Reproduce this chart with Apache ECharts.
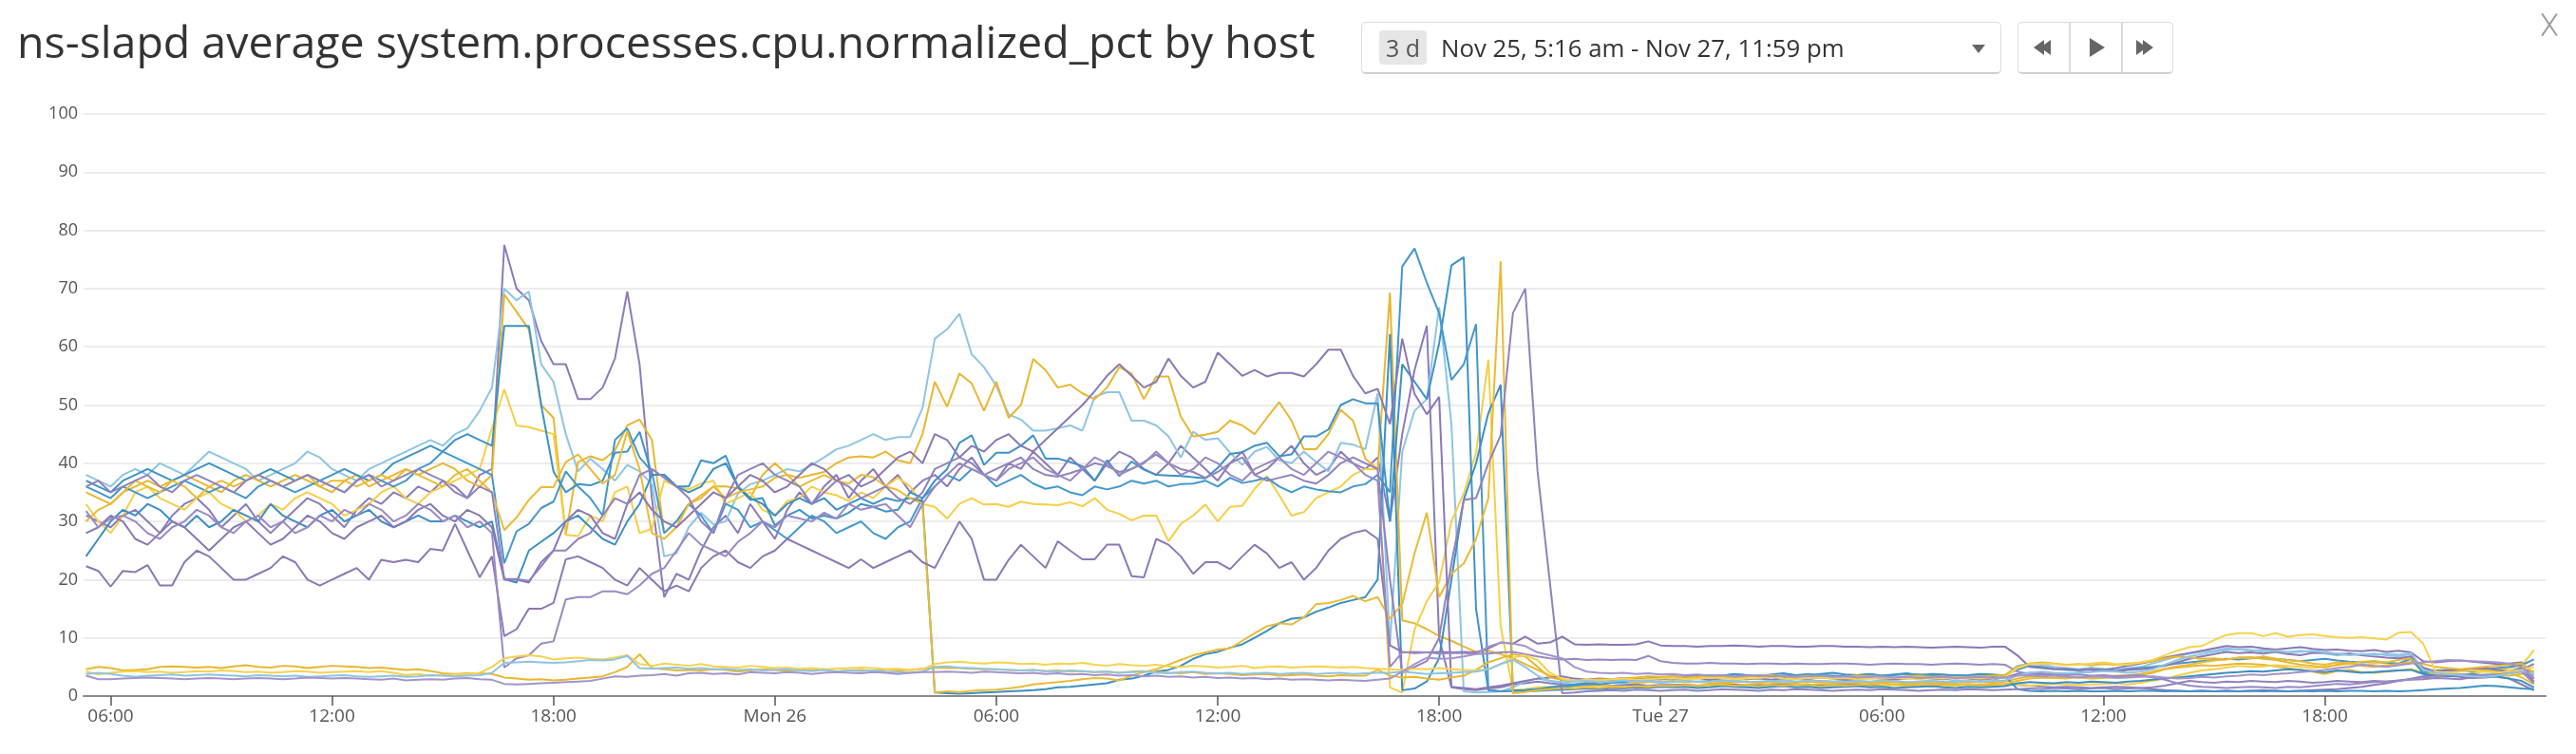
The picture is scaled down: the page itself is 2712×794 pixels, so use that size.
<!DOCTYPE html>
<html>
<head>
<meta charset="utf-8">
<script src="https://cdn.jsdelivr.net/npm/echarts@6.0.0/dist/echarts.min.js"></script>
<style>
html,body{margin:0;padding:0;background:#fff;width:2712px;height:794px;overflow:hidden;font-family:"Open Sans",sans-serif;}
#chart{position:absolute;left:0;top:0;width:2712px;height:794px;}
.hdr{position:absolute;white-space:nowrap;}
#title{left:18px;top:20px;font-size:46.5px;line-height:46.5px;color:#333;}
#picker{left:1433px;top:23px;width:672px;height:52px;border:1.5px solid #dcdcdc;border-bottom:2px solid #cfcfcf;border-radius:5px;box-sizing:content-box;}
#badge{position:absolute;left:18px;top:8px;width:50px;height:36px;background:#e6e6e6;border-radius:4px;color:#555;font-size:25px;line-height:36px;text-align:center;}
#range{position:absolute;left:83px;top:0;height:52px;line-height:52px;font-size:25.8px;color:#333;}
#caret{position:absolute;left:642px;top:23px;width:0;height:0;border-left:7px solid transparent;border-right:7px solid transparent;border-top:9px solid #666;}
#btns{left:2124px;top:23px;width:162px;height:52px;border:1.5px solid #dcdcdc;border-bottom:2px solid #cfcfcf;border-radius:5px;}
.div{position:absolute;top:0;width:1.5px;height:52px;background:#dcdcdc;}
.tri{position:absolute;width:0;height:0;}
.xl{position:absolute;width:1.6px;height:28px;background:#9a9a9a;}
</style>
</head>
<body>
<div id="chart"></div>
<div class="hdr" id="title">ns-slapd average system.processes.cpu.normalized_pct by host</div>
<div class="hdr" id="picker"><div id="badge">3 d</div><div id="range">Nov 25, 5:16 am - Nov 27, 11:59 pm</div><div id="caret"></div></div>
<div class="hdr" id="btns">
  <div class="div" style="left:53px"></div>
  <div class="div" style="left:108px"></div>
  <div class="tri" style="left:16px;top:18px;border-top:8px solid transparent;border-bottom:8px solid transparent;border-right:11px solid #666;"></div>
  <div class="tri" style="left:23px;top:18px;border-top:8px solid transparent;border-bottom:8px solid transparent;border-right:11px solid #666;"></div>
  <div class="tri" style="left:75px;top:16px;border-top:10px solid transparent;border-bottom:10px solid transparent;border-left:16px solid #666;"></div>
  <div class="tri" style="left:124px;top:18px;border-top:8px solid transparent;border-bottom:8px solid transparent;border-left:11px solid #666;"></div>
  <div class="tri" style="left:131px;top:18px;border-top:8px solid transparent;border-bottom:8px solid transparent;border-left:11px solid #666;"></div>
</div>
<div class="xl" style="left:2683px;top:12px;transform:rotate(34deg);"></div>
<div class="xl" style="left:2683px;top:12px;transform:rotate(-34deg);"></div>
<script>
// time grid: first point Nov 25 05:20, one point every 20 minutes (hours since Nov 25 00:00)
const startHour = 5 + 20/60;
const stepHour = 20/60;
const xMin = 5 + 16/60;       // Nov 25, 5:16 am
const xMax = 71 + 59/60;      // Nov 27, 11:59 pm
const xTickHours = [6,12,18,24,30,36,42,48,54,60,66];
const xTickLabels = ['06:00','12:00','18:00','Mon 26','06:00','12:00','18:00','Tue 27','06:00','12:00','18:00'];
const yTicks = [0,10,20,30,40,50,60,70,80,90,100];

const sA = [31,30,29,31,32,30,28,31,33,34,32,29,31,33,30,28,30,32,34,33,31,29,32,34,33,35,34,36,35,37,36,34,38,39,
77.5,70,68,61,
57,57,51,51,53,58,69.5,57,34,17,21,20,25,29,31,28,33,30,27,32,35,33,36,38,34,37,39,36,38,35,37,
38,36,39,41,38,37,40,39,42,40,38,41,39,37,40,42,41,39,38,40,43,41,39,37,40,42,38,39,41,43,40,38,39,42,40,39,41,
30,45,56,63.6,10,1.5,1.2,1.0,1.3,1.5,2.0,2.2,2.5,
2.2,2.0,1.8,1.9,2.0,1.8,1.9,2.0,1.8,1.9,
1.9,2.0,1.8,1.9,2.1,2.0,1.9,1.8,2.0,2.1,1.9,2.0,1.8,1.9,2.0,2.1,1.9,1.8,2.0,1.9,2.0,2.1,1.9,1.8,2.0,1.9,2.0,
2.0,1.9,1.8,1.6,1.5,1.6,1.5,1.4,1.5,1.6,1.5,1.4,
1.2,1.0,0.9,0.8,0.9,0.8,0.9,0.8,0.9,1.0,0.9,0.8,0.9,1.0,1.1,1.2,1.4,1.6,1.9,2.2,2.6,3.0,
3.4,3.6,3.5,3.3,3.1,3.2,3.4,3.0,2.0,1.0];

const sB = [38,37,36,38,39,38,40,39,38,40,42,41,40,39,37,38,39,40,42,41,39,38,37,39,40,41,42,43,44,43,45,46,49,53,
70,68,69.5,57,
54,45,38.6,40.8,39,37,39.7,38.6,36.4,24,24.5,29,31.5,29.5,30,34.8,36.4,37,38,39,38.6,39.7,41,42.4,43,44,45,44,44.5,44.5,49.5,
61.4,63,65.7,58.7,56.5,53.3,48.4,47.5,45.6,45.6,46,46.5,45.6,51.4,52.2,52.2,47.3,47.3,46.5,44.6,41,45.4,44,44.3,41.8,39.7,42,42.8,40.5,40,42,40.2,38.6,43.5,43.2,42.4,52,
8.7,42,49,51,66.8,46.7,0.8,0.6,0.7,0.8,1.5,2.5,3.0,
2.6,2.2,2.0,2.3,2.5,2.4,2.2,2.6,2.5,2.3,
2.4,2.6,2.5,2.7,2.4,2.6,2.5,2.3,2.6,2.8,2.5,2.4,2.6,2.5,2.7,2.6,2.4,2.5,2.6,2.3,2.5,2.6,2.4,2.7,2.5,2.4,2.6,
3.5,5.2,5.6,5.4,5.0,4.8,4.6,4.9,4.7,4.5,4.8,5.0,
5.6,6.2,6.8,7.3,7.6,7.8,8.2,8.0,7.8,7.9,7.7,7.6,7.8,7.5,7.3,7.0,7.2,7.1,7.3,7.0,6.8,7.2,
4.2,3.8,3.9,3.6,3.4,3.7,3.9,4.2,4.6,3.5];

const sC = [35,34,33,35,36,37,36,37,38,37,36,35,37,38,37,36,37,38,37,36,35,37,38,36,37,38,39,38,39,40,39,37,36,38,
69,66,63,50,
47.8,27.7,40.2,41.2,40.5,42.2,46.5,47.5,44,28,30,33,34.5,36,36,35.7,34,38,40,38,37.5,38,38.5,40,41,41.2,41,42,40.5,40,45,
54,49.7,55.4,53.7,49,54,47.8,50,57.9,56,53,53.5,52,51,53,56.5,55.4,51,54.9,54.9,48,44.6,44.9,45.4,47.3,46.5,45,47.8,50.5,47.3,42.4,42.4,45,49.2,47.3,40.8,39,
69.3,13,12.5,11.5,10.3,9.5,8.5,7.6,7.8,7.2,6.5,5.5,4.5,
3.5,2.8,2.6,2.5,2.4,2.6,2.5,2.3,2.4,2.5,
2.6,2.4,2.5,2.3,2.2,2.4,2.5,2.3,2.4,2.2,2.3,2.5,2.4,2.3,2.2,2.4,2.3,2.5,2.4,2.2,2.3,2.4,2.2,2.3,2.5,2.4,2.3,
2.5,3.0,3.4,3.2,3.1,3.3,3.2,3.0,3.1,3.3,3.4,3.6,
4.0,4.6,4.9,5.1,5.3,5.2,5.4,5.6,5.5,5.4,5.1,4.8,4.5,4.2,3.8,4.3,4.5,4.1,4.0,4.2,4.4,4.6,
4.0,3.8,3.6,3.7,3.5,3.4,3.6,3.5,3.8,4.3];

const sD = [33,30,28,31,35,36,34,33,32,34,35,33,32,30,31,33,32,34,35,34,33,31,32,33,35,36,34,33,35,36,37,38,39,46,
52.7,46.5,46.2,45.6,
45,27.7,27.5,31,30,35,36,28,28.7,37,36,35.5,36.5,37,33,34,35,32,31,33.5,34,36,35,34.5,33.5,35,34,36,37.5,36,33,
32.5,30.5,33,34,32.9,33,32.5,33.4,33,32.9,32.8,33.3,32.6,34,32,31.3,30.2,31,31,26.6,29.6,31,32.9,30,32.5,32.7,35.6,37.8,34.5,31,31.6,34,35,36,38,39,39,
1.5,0.6,11.4,16.3,19.6,30,34.8,41.8,57.8,12,1.0,1.2,1.5,
1.6,1.5,1.7,1.6,1.8,1.7,1.6,1.5,1.7,1.6,
1.7,1.8,1.6,1.7,1.9,1.8,1.7,1.6,1.8,1.7,1.9,1.8,1.6,1.7,1.8,1.7,1.6,1.8,1.9,1.7,1.8,1.6,1.7,1.8,1.9,1.7,1.8,
1.9,2.0,1.8,1.9,2.1,2.0,1.9,2.0,2.1,2.2,2.0,2.3,
2.6,3.0,3.5,4.0,4.4,4.6,4.9,5.2,5.0,5.1,5.3,5.2,5.0,4.8,5.1,5.3,5.5,5.4,5.6,5.8,5.5,5.9,
4.8,4.0,3.8,3.6,3.9,4.2,4.5,4.8,5.2,7.9];

const sE = [37,36,35,37,38,39,38,37,38,39,40,39,38,37,38,39,38,37,38,37,38,39,38,37,38,40,41,42,43,42,44,45,44,43,
63.6,63.6,63.6,50,
38.6,35,36.4,36.2,37,41.8,42,45.4,38,38,36,36,40.5,40,41.3,35.9,33.7,34,29.3,31,32,30.5,31,30.5,31.5,33,32.5,31.7,32,35,34,
37,39,43.5,44.8,39.7,41.8,41.8,43,44.8,40.8,40.8,40.2,39.5,37,40.5,37.8,40.3,38.9,38,37.9,37.8,37.6,37.4,39.2,41.6,41.9,43,43.5,41.2,41.5,44.6,44.6,45.8,50,51,50.3,50.3,
30,57,54,51,60.6,74,75.4,15,1.0,0.8,0.9,1.0,1.2,
1.5,1.8,2.0,2.2,2.0,2.3,2.5,2.8,3.0,2.9,
3.2,3.4,3.3,3.6,3.5,3.8,3.6,3.4,3.7,3.9,3.6,3.5,3.8,4.0,3.7,3.6,3.8,3.5,3.7,3.9,3.6,3.8,3.7,3.5,3.6,3.8,3.7,
3.5,1.2,0.9,0.8,0.9,0.8,0.9,0.8,0.8,0.9,0.8,0.9,
0.9,0.8,0.9,0.8,0.9,0.8,0.9,0.8,0.9,0.8,0.9,0.8,0.9,0.8,0.9,0.8,0.9,0.9,0.8,0.9,0.8,0.9,
1.0,1.2,1.3,1.4,1.6,1.8,1.7,1.5,1.3,1.2];

const sF = [36,35,34,36,35,34,35,36,37,36,35,36,35,34,36,37,36,35,36,37,36,35,37,38,37,36,37,39,40,42,41,40,39,38,
22.8,28.3,29.6,32.3,
33.4,38.6,36,34,31,44,46,41,38.6,28,30,33,31,28,33,32,29,30,28.5,27,29,31,30,28,29,30,28,27,29,30,34,
36,38,37,39,38,36,37,38,36.5,35.6,36,35,34.5,36,35.5,36,37,36.5,37,36,36.4,36.5,37,36,37.5,36.6,37,37.5,36,35,36,35.5,35.2,35,36,36.4,38,
35,73.8,76.9,71,65.8,54.3,57,63.9,1.0,0.8,0.9,1.0,1.2,
1.3,1.5,1.8,2.0,2.4,2.6,2.4,2.8,3.0,3.2,
3.4,3.3,3.6,3.4,3.5,3.7,3.6,3.4,3.3,3.5,3.6,3.8,3.6,3.5,3.4,3.6,3.7,3.5,3.6,3.8,3.7,3.5,3.4,3.6,3.5,3.3,3.4,
3.6,4.5,5.2,5.0,4.7,4.5,4.4,4.6,4.5,4.3,4.6,4.8,
5.0,5.3,5.6,5.8,6.0,6.2,6.4,6.3,6.5,6.6,6.4,6.2,6.0,6.2,6.4,6.1,5.9,5.8,6.0,5.7,5.6,6.4,
4.0,4.4,4.5,4.4,4.2,4.6,4.8,5.0,5.3,6.3];

const sG = [24,27,30,32,31,33,32,30,29,31,29,30,32,31,30,33,31,30,29,31,32,30,31,32,30,29,30,31,30,30,31,30,29,30,
20.1,19.5,25,26.5,
28,30,31,29,27,26,30,33,38,38,36,35,36,39,40,36,34,33,31,33,34,33,34,32,33,34,33,34,33.5,34,33.5,
0.6,0.5,0.4,0.5,0.6,0.7,0.8,0.9,1.0,1.2,1.5,1.6,1.8,2.0,2.2,2.8,3.0,3.5,4.2,4.5,5.2,6.4,7.2,7.6,8.3,8.9,10.0,11.2,12.5,13.3,13.5,14.5,15.2,16.0,16.5,17.0,20.0,
62.2,1.0,1.3,2.5,6.5,20,33.7,40,48.6,53.5,1.0,0.8,0.9,
1.0,1.1,1.2,1.3,1.2,1.4,1.3,1.5,1.4,1.6,
1.5,1.6,1.4,1.5,1.7,1.6,1.5,1.4,1.6,1.7,1.5,1.6,1.4,1.5,1.6,1.7,1.5,1.6,1.4,1.5,1.6,1.7,1.5,1.4,1.6,1.5,1.6,
1.7,2.2,2.4,2.3,2.2,2.4,2.3,2.5,2.4,2.3,2.5,2.6,
2.8,3.0,3.2,3.4,3.6,3.8,4.0,4.1,4.3,4.2,4.4,4.6,4.5,4.3,4.1,4.4,4.2,4.0,4.1,4.3,4.4,4.5,
3.8,3.5,3.4,3.6,3.8,3.5,3.3,3.0,2.6,1.5];

const sH = [30,32,33,35,37,36,35,37,36,34,36,37,36,37,38,37,36,37,38,36,37,37,36,37,38,37,39,38,37,36,38,39,37,35,
28.5,30.7,33.7,35.9,
35.9,40.2,41.5,39,36.5,38,45.5,39,28,27,29,33,34,36,34,35,35.5,36,37.5,38,36,37,38,37,36.5,38,37.6,36,35.4,34,33,
0.6,0.8,0.7,0.9,1.0,1.1,1.3,1.6,2.0,2.2,2.4,2.6,2.9,3.1,3.0,2.7,3.5,4.1,4.6,5.4,6.2,7.0,7.5,8.0,8.2,9.5,10.8,12.0,12.5,12.3,13.5,15.8,16.0,16.5,17.2,16.3,17,
13.3,15.8,24.5,31.5,17,21,22.8,27,34,74.7,0.5,0.7,1.0,
1.2,1.4,1.3,1.5,1.4,1.6,1.5,1.7,1.6,1.8,
1.7,1.9,1.8,2.0,1.9,1.8,2.0,2.1,1.9,1.8,2.0,1.9,2.1,2.0,1.8,1.9,2.0,2.2,2.0,1.9,2.1,2.0,1.9,2.0,2.1,1.9,2.0,
2.1,2.6,3.0,3.2,3.1,3.0,3.3,3.2,3.4,3.5,3.6,3.8,
4.2,4.7,5.1,5.4,5.8,6.1,6.3,6.6,6.5,6.8,6.4,6.2,6.0,5.6,5.4,5.8,5.6,5.9,6.0,5.8,6.2,6.5,
4.8,4.2,4.0,4.3,4.5,4.4,4.2,4.0,3.2,2.0];

const sI = [28,29,31,30,27,26,28,30,29,27,25,27,29,30,28,26,27,29,31,30,28,27,29,30,31,29,30,32,33,31,30,32,31,29,
20,20,19.5,23,
25,30,32,31,28,27,33,35,32,30,29,31,33,35,34,36,38,37,35,36,38,40,39,37,38,36,37,39,41,42,40,
45,44,41,43,42,44,45,43,42,44,46,48,50,52.4,55,57,55,53,54,58,55,53,54,59,57,55,56,54.9,55.5,55.5,54.9,57,59.5,59.5,55,52,52.8,
46.7,61.4,51.9,48.4,51.4,1.6,1.4,1.2,1.5,1.8,2.2,2.6,3.0,
3.2,3.4,3.0,2.8,3.0,2.9,3.1,3.0,2.8,2.9,
3.0,2.9,3.1,2.8,3.0,3.2,2.9,3.0,2.8,3.1,3.0,2.9,3.2,3.0,2.8,2.9,3.1,3.0,2.9,3.0,3.2,3.0,2.9,3.1,3.0,2.8,3.0,
3.2,3.8,4.0,3.9,3.7,3.8,4.0,4.2,4.5,4.8,5.2,5.6,
6.0,6.6,7.0,7.4,7.8,8.2,8.6,8.4,8.5,8.2,8.0,8.2,8.4,8.1,7.9,8.0,7.8,7.7,7.9,7.6,7.8,7.5,
6.0,5.8,6.0,6.1,5.9,5.7,5.5,5.6,5.8,3.0];

const sJ = [36,37,35,36,37,38,36,35,37,38,37,36,35,37,38,37,36,37,38,37,36,35,37,38,36,37,38,39,38,37,35,34,36,35,
20.1,20.1,19.8,22.3,
25,25,27,28,31,34,33,38,39,37.5,36,34,30,28,34,38,39,40,38,37,36,33,35,37,36,34,35,36,34,33,35,
39,40,41,40,38,39,40,41,39,38,37.7,38.3,39,40,39.5,38.5,39,40.2,41.5,40,39,38.5,37.5,38.5,40,41,38,37,37.5,38,37,36.5,38,40,41,40,39,
20,4,5,6,10,22.8,33.7,34,40,44.8,65.8,70,38.6,
19.6,0.5,0.6,0.8,0.9,1.0,0.9,1.1,1.0,0.9,
1.0,1.1,0.9,1.0,1.2,1.1,1.0,0.9,1.1,1.0,1.2,1.1,1.0,0.9,1.0,1.1,1.0,1.2,1.1,1.0,0.9,1.0,1.1,1.0,1.2,1.1,1.0,
1.1,1.2,1.3,1.2,1.4,1.3,1.2,1.3,1.4,1.2,1.3,1.4,
1.5,1.8,2.2,2.6,2.4,2.3,2.5,2.4,2.6,2.5,2.4,2.6,2.5,2.3,2.4,2.6,2.5,2.4,2.6,2.5,2.7,2.8,
2.9,3.1,3.0,2.9,3.2,3.4,3.8,4.2,4.6,5.5];

const sK = [22.3,21.5,18.8,21.5,21.3,22.5,19,19,23,25,24,22,20,20,21,22,24,23,20,19,20,21,22,20,23.4,23,23.4,23,25.3,25,29.6,25,20.4,24,
10.3,11.5,15,15,
16,23.5,24,23,22,20,19,22,20,18,19,18,22,24,25,23,22,24,25,27,26,25,24,23,22,23.5,22,23,24,25,23,
22,26,30,27,20,20,23.4,26,24,22,26.6,25,23.5,23.5,26,26,20.6,20.4,27,26,24,21,23,23,21.8,24,26,24.5,22,23,20,22,25,27,28,28.5,27,
8.7,7.6,7.4,7.5,7.6,7.5,7.6,7.5,8.2,9.2,9.0,10.2,9.0,
9.2,10.2,8.9,8.8,8.9,8.8,8.8,8.9,9.4,8.7,
8.6,8.6,8.5,8.6,8.6,8.7,8.6,8.5,8.6,8.6,8.5,8.5,8.6,8.6,8.5,8.5,8.4,8.5,8.4,8.5,8.4,8.3,8.4,8.5,8.4,8.3,8.5,
8.5,7.0,5.0,4.8,4.6,4.7,4.5,4.6,4.4,4.3,4.5,4.6,
4.8,5.2,5.8,6.4,6.8,7.2,7.6,7.4,7.5,7.3,7.6,7.2,7.0,7.4,7.5,7.2,7.3,7.0,6.8,6.6,6.5,6.8,
4.9,4.2,4.5,4.4,4.6,4.8,4.5,4.3,4.8,2.5];

const sL = [31.8,29,30.5,31,30,28,27,29,30,32,31,29,28,30,31,29,30,28,29,31,30,32,31,33,32,30,31,33,32,30,31,29,30,28,
4.9,6.5,7,9,
9.4,16.6,17,17,18,18,17.5,19,21,22,25,28,26,25,24,26.5,28,30,29,31,30.5,30,31.5,30.5,33,32,32.5,33,31,29,33,
36,38,40,39,38,37,39,40,41,39,38,37,39,41,40,38,39,40,42,40,38,39,41,40,38,37,39,40,41,39,38,40,42,41,40,38,37,
5,7.5,7.6,7.5,7.3,7.4,7.4,7.2,7.3,7.5,7.6,7.2,6.8,
6.5,6.3,6.4,6.2,6.3,6.2,6.3,6.2,6.9,6.0,
5.7,5.6,5.6,5.7,5.6,5.6,5.5,5.6,5.6,5.5,5.6,5.5,5.5,5.6,5.6,5.5,5.4,5.5,5.6,5.5,5.5,5.4,5.5,5.6,5.5,5.4,5.5,
5.4,4.2,3.8,3.7,3.8,3.6,3.7,3.5,3.6,3.4,3.5,3.6,
3.2,2.8,2.2,1.8,1.6,1.5,1.4,1.5,1.6,1.5,1.4,1.6,1.5,1.7,1.9,2.1,2.0,2.2,2.4,2.5,2.6,2.9,
3.2,3.4,3.6,3.7,3.6,3.5,3.6,3.9,4.2,2.2];

const lo1 = [4.6,5.0,4.8,4.4,4.5,4.6,5.0,5.1,5.0,4.9,5.0,4.8,5.1,5.3,5.0,4.9,5.2,5.1,4.8,5.0,5.2,5.1,5.0,4.8,4.9,4.7,4.5,4.6,4.3,3.9,3.8,3.9,3.9,3.8,
3.2,3.0,2.8,2.9,
2.7,2.8,3.0,3.2,3.4,4.1,5.0,7.2,4.8,4.6,4.4,4.5,4.4,4.6,4.5,4.2,4.4,4.6,4.5,4.3,4.5,4.4,4.6,4.2,4.4,4.5,4.3,4.6,4.4,4.5,4.7,
4.9,4.8,4.8,4.7,4.6,4.6,4.5,4.4,4.5,4.3,4.4,4.2,4.3,4.1,4.2,4.0,4.2,4.3,4.1,4.0,3.9,4.1,3.8,3.9,3.8,3.6,3.7,3.8,3.5,3.6,3.7,3.5,3.4,3.6,3.5,3.5,4.5,
3.5,3.2,3.3,3.0,2.8,3.2,3.5,4.5,5.8,6.5,7.2,6.8,5.0,
3.2,2.8,2.6,2.7,2.9,2.8,3.0,3.2,3.4,3.3,
3.4,3.2,3.3,3.5,3.4,3.2,3.3,3.5,3.6,3.4,3.3,3.5,3.4,3.2,3.3,3.5,3.4,3.3,3.2,3.4,3.5,3.3,3.4,3.2,3.3,3.4,3.5,
3.6,5.0,5.6,5.8,5.6,5.4,5.5,5.3,5.5,5.4,5.6,5.7,
6.0,6.5,6.8,6.6,6.4,6.5,6.3,6.6,6.7,6.4,6.2,5.8,5.4,5.2,4.9,5.4,5.8,5.2,5.0,5.3,5.5,5.8,
5.5,5.0,4.8,4.6,4.8,5.0,5.2,5.4,5.6,4.0];

const lo2 = [4.2,3.7,4.0,4.2,4.3,4.1,4.2,4.0,4.1,4.3,4.2,4.4,4.3,4.1,4.2,4.0,4.1,4.3,4.2,4.0,4.1,4.2,4.3,4.1,4.3,4.0,3.6,3.8,3.5,3.6,3.7,3.8,4.0,5.0,
6.5,6.8,7.0,6.8,
6.3,6.5,6.6,6.4,6.3,6.6,7.0,5.5,5.2,5.6,5.4,5.2,5.5,5.1,5.0,4.9,5.2,5.0,4.8,4.9,4.7,4.8,4.6,4.7,4.8,4.9,4.8,4.6,4.7,4.5,4.6,
5.5,5.8,5.9,5.7,5.6,5.8,5.7,5.5,5.6,5.4,5.6,5.5,5.7,5.4,5.2,5.5,5.3,5.2,5.4,5.1,5.0,5.2,5.1,4.9,5.0,5.2,4.8,5.0,5.1,4.9,5.0,5.1,5.0,4.9,5.0,4.8,4.7,
4.6,4.5,4.7,4.6,4.8,4.6,4.5,4.4,4.6,5.5,6.6,7.0,6.2,
4.0,3.0,2.6,2.8,2.7,2.9,3.0,2.8,2.9,3.0,
3.1,2.9,3.0,3.2,3.1,2.9,3.0,3.1,3.3,3.0,2.9,3.1,3.2,3.0,3.1,2.9,3.0,3.2,3.1,3.0,2.9,3.1,3.0,3.2,3.1,3.0,3.1,
3.2,4.8,5.5,5.6,5.5,5.3,5.4,5.6,5.8,5.5,5.4,5.8,
6.2,7.0,7.8,8.4,8.6,9.6,10.5,10.8,10.8,10.3,10.8,10.2,10.5,10.6,10.3,10.1,10.0,10.1,9.9,9.7,10.9,11.0,
9.0,4.2,4.0,4.2,4.4,4.2,4.0,4.3,4.5,5.0];

const lo3 = [3.8,4.0,3.8,3.5,3.3,3.5,3.6,3.7,3.5,3.6,3.7,3.6,3.5,3.4,3.6,3.5,3.4,3.5,3.3,3.4,3.5,3.6,3.4,3.3,3.4,3.5,3.3,3.4,3.6,3.5,3.4,3.5,3.6,4.0,
5.7,5.8,5.9,5.8,
5.7,5.8,6.0,6.2,6.1,6.3,6.9,4.8,4.7,4.8,4.9,4.7,4.8,4.6,4.7,4.5,4.6,4.4,4.5,4.6,4.4,4.3,4.5,4.2,4.4,4.3,4.4,4.2,4.1,4.0,4.2,
5.0,5.1,4.9,4.8,4.7,4.6,4.5,4.4,4.5,4.3,4.2,4.4,4.3,4.1,4.2,4.0,4.1,4.2,4.0,3.9,4.1,4.2,4.0,3.9,4.0,3.8,3.9,4.0,3.8,3.9,4.0,3.8,3.9,4.0,3.8,3.9,4.0,
4.0,4.2,4.0,3.8,3.9,4.0,4.1,4.2,4.6,5.5,6.2,5.0,3.5,
2.6,2.4,2.5,2.6,2.4,2.5,2.7,2.5,2.6,2.4,
2.5,2.6,2.4,2.5,2.7,2.6,2.4,2.5,2.6,2.4,2.5,2.7,2.6,2.5,2.4,2.6,2.5,2.7,2.6,2.4,2.5,2.6,2.5,2.4,2.6,2.5,2.6,
2.7,3.5,4.0,4.2,4.0,3.9,4.0,4.1,4.3,4.2,4.0,4.2,
4.6,5.4,6.2,6.8,7.2,7.6,7.9,8.1,7.9,7.6,7.8,7.5,7.6,7.8,7.5,7.3,7.0,7.2,7.0,7.3,7.1,7.4,
4.5,4.0,3.8,3.6,3.4,3.3,3.5,3.9,4.3,3.8];

const lo4 = [3.5,2.9,2.9,3.0,3.1,3.2,3.1,3.0,2.9,3.0,3.1,3.0,2.9,3.0,3.1,3.0,2.9,3.0,3.2,3.1,3.0,3.1,3.0,2.9,2.8,3.0,2.7,2.8,2.9,2.8,3.0,3.1,2.9,2.8,
2.1,2.0,2.1,2.2,
2.3,2.4,2.5,2.6,3.0,3.4,3.3,3.5,3.6,3.8,3.5,3.9,4.0,3.8,3.9,3.7,4.1,4.0,3.9,4.1,4.0,3.8,4.0,4.1,4.0,3.9,4.1,4.0,3.8,4.0,4.1,
4.1,4.2,4.1,4.0,4.2,4.1,4.0,3.9,4.0,3.8,3.9,3.7,3.8,3.6,3.7,3.5,3.6,3.4,3.5,3.3,3.4,3.2,3.3,3.1,3.2,3.0,3.1,2.9,3.0,2.8,2.9,2.8,2.7,2.8,2.7,2.6,2.8,
3.0,4.2,5.5,6.6,6.4,6.5,6.8,7.2,8.5,9.2,9.0,8.6,7.5,
7.0,6.5,5.0,4.2,4.0,3.9,4.0,3.8,3.9,3.7,
3.8,3.6,3.7,3.5,3.6,3.4,3.5,3.6,3.4,3.5,3.3,3.4,3.5,3.3,3.4,3.2,3.3,3.4,3.2,3.3,3.1,3.2,3.3,3.1,3.2,3.3,3.1,
3.2,3.5,3.6,3.4,3.5,3.3,3.2,3.4,3.3,3.1,3.2,3.3,
3.4,3.2,3.0,3.1,3.3,3.2,3.4,3.5,3.7,3.6,3.8,3.9,4.1,4.3,4.5,4.8,5.0,5.4,5.2,5.0,5.3,5.6,
5.8,6.0,6.2,6.1,6.0,5.9,5.8,5.6,5.0,3.0];

const hostSeries = [
  {name:'host-a', data:sA, color:'#8c7bb8'},
  {name:'host-b', data:sB, color:'#8ec5e3'},
  {name:'host-c', data:sC, color:'#e8b730'},
  {name:'host-d', data:sD, color:'#f5cf47'},
  {name:'host-e', data:sE, color:'#3d92c7'},
  {name:'host-f', data:sF, color:'#4398cc'},
  {name:'host-g', data:sG, color:'#3a8fc4'},
  {name:'host-h', data:sH, color:'#ebbb35'},
  {name:'host-i', data:sI, color:'#8a78b4'},
  {name:'host-j', data:sJ, color:'#9182bd'},
  {name:'host-k', data:sK, color:'#8a78b4'},
  {name:'host-l', data:sL, color:'#9a89c2'},
  {name:'host-m', data:lo1, color:'#e8b730'},
  {name:'host-n', data:lo2, color:'#f7d24d'},
  {name:'host-o', data:lo3, color:'#8ec5e3'},
  {name:'host-p', data:lo4, color:'#a394cc'}
];

const chart = echarts.init(document.getElementById('chart'), null, {renderer:'canvas'});
const font = '"Open Sans", sans-serif';
chart.setOption({
  animation:false,
  backgroundColor:'#fff',
  grid:{left:88, right:32, top:120, bottom:61, containLabel:false},
  xAxis:{
    type:'value', min:xMin, max:xMax,
    axisLine:{show:true, lineStyle:{color:'#8a8a8a', width:2}},
    axisTick:{show:true, customValues:xTickHours, length:10, lineStyle:{color:'#555', width:1.5}},
    axisLabel:{customValues:xTickHours, fontSize:19, color:'#555', fontFamily:font, margin:12,
      formatter:function(v){const k=xTickHours.indexOf(Math.round(v)); return k>=0?xTickLabels[k]:'';}},
    splitLine:{show:false}
  },
  yAxis:{
    type:'value', min:yTicks[0], max:yTicks[yTicks.length-1], interval:10,
    axisLine:{show:false}, axisTick:{show:false},
    axisLabel:{fontSize:18, color:'#555', fontFamily:font, margin:6},
    splitLine:{show:true, lineStyle:{color:'#e6e6e6', width:1.5}}
  },
  series: hostSeries.map(s => ({
    name:s.name, type:'line', showSymbol:false, symbol:'none',
    data:s.data.map((v,i)=>[startHour + i*stepHour, v]),
    lineStyle:{color:s.color, width:2},
    itemStyle:{color:s.color},
    emphasis:{disabled:true}
  }))
});
</script>
</body>
</html>
